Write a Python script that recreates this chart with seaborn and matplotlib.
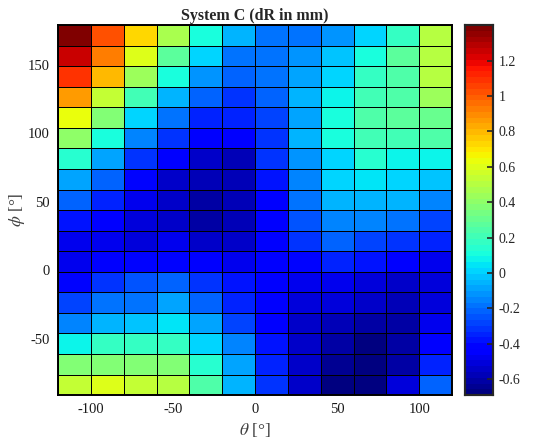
import numpy as np
import pandas as pd
import matplotlib
matplotlib.use("Agg")
import matplotlib.pyplot as plt
import seaborn as sns

theta = [-110, -90, -70, -50, -30, -10, 10, 30, 50, 70, 90, 110]
phi = [172.5, 157.5, 142.5, 127.5, 112.5, 97.5, 82.5, 67.5, 52.5, 37.5,
       22.5, 7.5, -7.5, -22.5, -37.5, -52.5, -67.5, -82.5]

# rows from top (phi=172.5) to bottom (phi=-82.5)
dR = [
    [1.40, 1.03, 0.72, 0.47, 0.12, -0.06, -0.17, -0.20, -0.12, 0.00, 0.19, 0.49],
    [1.25, 0.93, 0.60, 0.27, 0.00, -0.17, -0.20, -0.12, -0.02, 0.11, 0.27, 0.49],
    [1.09, 0.78, 0.44, 0.12, -0.12, -0.22, -0.20, -0.09, 0.02, 0.19, 0.25, 0.49],
    [0.86, 0.55, 0.22, -0.04, -0.22, -0.33, -0.22, -0.06, 0.09, 0.22, 0.25, 0.44],
    [0.62, 0.36, 0.00, -0.20, -0.35, -0.35, -0.28, -0.09, 0.12, 0.25, 0.27, 0.30],
    [0.41, 0.12, -0.14, -0.33, -0.46, -0.46, -0.30, -0.04, 0.12, 0.22, 0.22, 0.25],
    [0.15, -0.09, -0.30, -0.43, -0.53, -0.56, -0.33, -0.12, 0.02, 0.15, 0.09, 0.09],
    [-0.09, -0.22, -0.40, -0.53, -0.56, -0.56, -0.38, -0.14, 0.00, 0.05, 0.00, -0.02],
    [-0.22, -0.35, -0.49, -0.53, -0.62, -0.58, -0.43, -0.20, -0.06, -0.04, -0.06, -0.14],
    [-0.38, -0.43, -0.51, -0.53, -0.62, -0.58, -0.43, -0.25, -0.14, -0.14, -0.20, -0.28],
    [-0.47, -0.47, -0.51, -0.48, -0.53, -0.54, -0.43, -0.33, -0.22, -0.28, -0.30, -0.36],
    [-0.48, -0.45, -0.41, -0.41, -0.45, -0.48, -0.45, -0.41, -0.36, -0.38, -0.45, -0.49],
    [-0.41, -0.30, -0.25, -0.22, -0.30, -0.39, -0.43, -0.47, -0.47, -0.51, -0.53, -0.51],
    [-0.28, -0.20, -0.17, -0.09, -0.22, -0.35, -0.43, -0.51, -0.52, -0.54, -0.58, -0.51],
    [-0.14, -0.04, -0.02, 0.05, -0.09, -0.28, -0.43, -0.53, -0.59, -0.62, -0.60, -0.47],
    [0.09, 0.19, 0.19, 0.19, 0.02, -0.14, -0.38, -0.53, -0.62, -0.66, -0.62, -0.43],
    [0.36, 0.36, 0.36, 0.36, 0.15, -0.09, -0.35, -0.53, -0.65, -0.66, -0.60, -0.35],
    [0.55, 0.60, 0.55, 0.49, 0.25, -0.04, -0.33, -0.53, -0.66, -0.69, -0.51, -0.22],
]

x_ticks = [-100, -50, 0, 50, 100]
y_ticks = [-50, 0, 50, 100, 150]
cbar_ticks = [-0.6, -0.4, -0.2, 0, 0.2, 0.4, 0.6, 0.8, 1, 1.2]
cbar_labels = ['-0.6', '-0.4', '-0.2', '0', '0.2', '0.4', '0.6', '0.8', '1', '1.2']

title = "System C (dR in mm)"

sns.set_style("white")
plt.rcParams['font.family'] = ['Liberation Serif', 'DejaVu Serif']
plt.rcParams['mathtext.fontset'] = 'stix'
plt.rcParams['axes.axisbelow'] = False

df = pd.DataFrame(dR, index=phi, columns=theta)

fig = plt.figure(figsize=(5.48, 4.41), dpi=100)
ax = fig.add_axes([0.106, 0.104, 0.719, 0.839])
cax = fig.add_axes([0.8485, 0.104, 0.051, 0.839])

cmap = plt.get_cmap('jet', 64)
sns.heatmap(df, ax=ax, cbar_ax=cax, cmap=cmap, vmin=-0.69, vmax=1.40,
            linewidths=0.6, linecolor='black', cbar=True)

# map data coordinates to heatmap cell coordinates
x0, dx = -120, 20
y_top, dy = 180, 15
ax.set_xticks([(v - x0) / dx for v in x_ticks])
ax.set_xticklabels([str(v) for v in x_ticks], rotation=0)
ax.set_yticks([(y_top - v) / dy for v in y_ticks])
ax.set_yticklabels([str(v) for v in y_ticks], rotation=0)
ax.tick_params(axis='both', length=0, labelsize=10.5, pad=6, colors='#1a1a1a')

for s in ax.spines.values():
    s.set_visible(True)
    s.set_linewidth(1.4)
    s.set_color('black')

ax.set_xlabel(r'$\theta$ [°]', fontsize=12.5, color='#404040', labelpad=3)
ax.set_ylabel(r'$\phi$ [°]', fontsize=12.5, color='#404040')
ax.yaxis.set_label_coords(-0.08, 0.5)
ax.set_title(title, fontsize=11.5, fontweight='bold', pad=4)

cax.set_axisbelow(False)
cax.set_yticks(cbar_ticks)
cax.set_yticklabels(cbar_labels)
cax.yaxis.set_ticks_position('right')
cax.tick_params(axis='y', which='both', direction='in', length=4, width=1.2,
                labelsize=10, color='#262626', labelcolor='#262626', pad=4)
for s in cax.spines.values():
    s.set_visible(True)
    s.set_linewidth(1.5)
    s.set_color('#262626')

fig.savefig('out.png', dpi=100)
